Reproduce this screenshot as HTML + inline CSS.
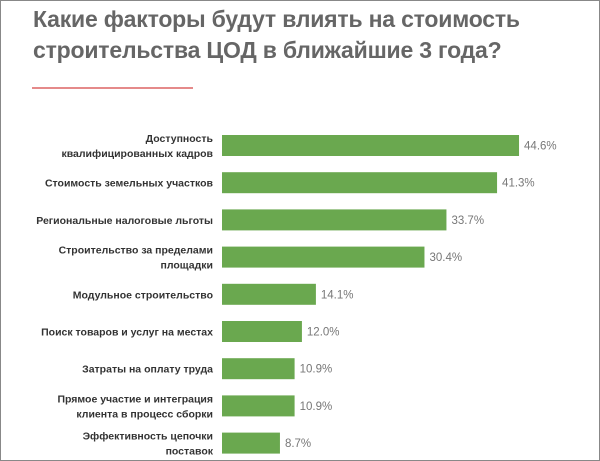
<!DOCTYPE html>
<html><head><meta charset="utf-8"><style>
body{margin:0;width:600px;height:461px;overflow:hidden;background:#fff;font-family:"Liberation Sans","Noto Sans CJK SC",sans-serif}
#frame{position:absolute;left:0;top:0;width:598px;height:459px;border:1px solid #888}
#title{position:absolute;left:33px;top:4px;font-size:23px;font-weight:bold;color:#666;line-height:31px;letter-spacing:-0.2px}
#rule{position:absolute;left:32px;top:87px;width:161px;height:2px;background:#e58a8a}
</style></head><body>
<div id="frame"></div>
<div id="title">Какие факторы будут влиять на стоимость<br>строительства ЦОД в ближайшие 3 года?</div>
<div id="rule"></div>
<svg id="chart" width="600" height="461" style="position:absolute;left:0;top:0"></svg>
<script>
const categories=[["Доступность","квалифицированных кадров"],["Стоимость земельных участков"],["Региональные налоговые льготы"],["Строительство за пределами","площадки"],["Модульное строительство"],["Поиск товаров и услуг на местах"],["Затраты на оплату труда"],["Прямое участие и интеграция","клиента в процесс сборки"],["Эффективность цепочки","поставок"]];
const values=[44.6,41.3,33.7,30.4,14.1,12.0,10.9,10.9,8.7];
const valueLabels=["44.6%","41.3%","33.7%","30.4%","14.1%","12.0%","10.9%","10.9%","8.7%"];
const svg=document.getElementById('chart');const NS='http://www.w3.org/2000/svg';
const x0=222,scale=6.66;
function xScale(v){return x0+v*scale;}
function yScale(i){return 135+i*37.2;}
const bh=21;
categories.forEach((c,i)=>{
 const y=yScale(i);
 const r=document.createElementNS(NS,'rect');
 r.setAttribute('x',x0);r.setAttribute('y',y);r.setAttribute('width',xScale(values[i])-x0);r.setAttribute('height',bh);r.setAttribute('fill','#6aa84f');
 
 
 svg.appendChild(r);
 const v=document.createElementNS(NS,'text');
 v.setAttribute('x',xScale(values[i])+5);v.setAttribute('y',y+bh/2+4);v.setAttribute('font-size','11.5');v.setAttribute('fill','#777');
 v.textContent=valueLabels[i];
 
 
 svg.appendChild(v);
 const t=document.createElementNS(NS,'text');
 t.setAttribute('text-anchor','end');t.setAttribute('font-size','10.5');t.setAttribute('font-weight','bold');t.setAttribute('fill','#333');
 
 
 const n=c.length;
 c.forEach((line,k)=>{const s=document.createElementNS(NS,'tspan');s.setAttribute('x',213);s.setAttribute('y',y+bh/2+4+(k-(n-1)/2)*15);s.textContent=line;t.appendChild(s);});
 svg.appendChild(t);
});
</script>
</body></html>
